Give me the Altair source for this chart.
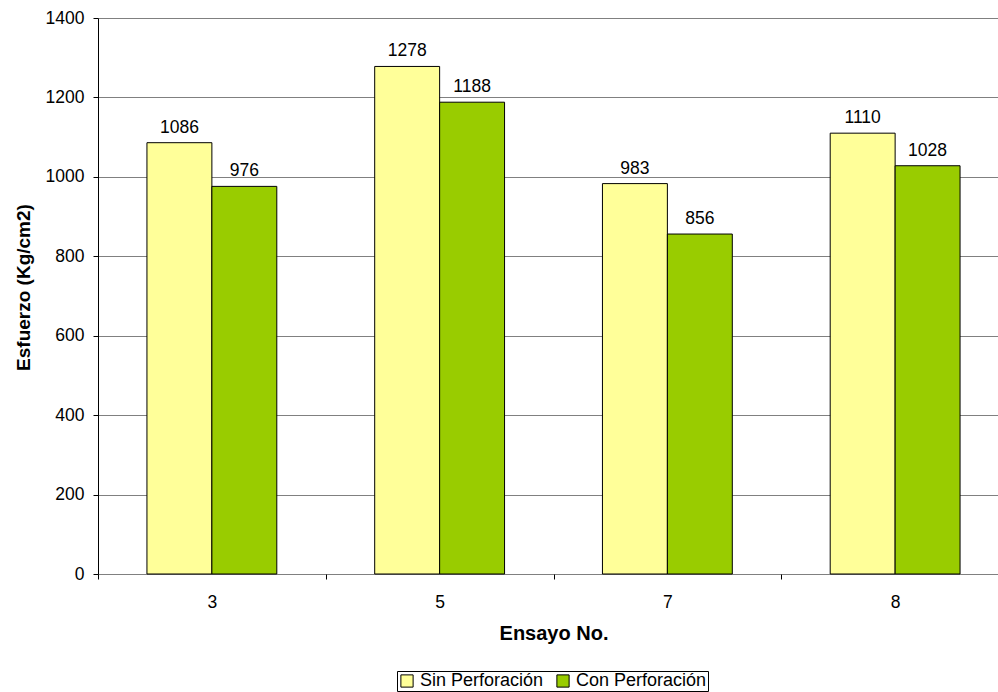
import altair as alt
import pandas as pd

# Test numbers (Ensayo No.) and measured stress for each specimen type
ensayos = ["3", "5", "7", "8"]
sin_perforacion = [1086, 1278, 983, 1110]
con_perforacion = [976, 1188, 856, 1028]
series = ["Sin Perforación", "Con Perforación"]
colores = ["#FFFF99", "#99CC00"]

rows = []
for i, e in enumerate(ensayos):
    rows.append({"Ensayo": e, "Serie": series[0], "Valor": sin_perforacion[i]})
    rows.append({"Ensayo": e, "Serie": series[1], "Valor": con_perforacion[i]})
df = pd.DataFrame(rows)

FONT = "Liberation Sans"

x_enc = alt.X(
    "Ensayo:N",
    sort=ensayos,
    scale=alt.Scale(range=[0, 911], paddingInner=0, paddingOuter=0),
    axis=alt.Axis(
        title="Ensayo No.",
        labelAngle=0,
        domain=False,
        tickBand="extent",
        tickSize=5,
        tickColor="black",
        labelPadding=14,
        labelFontSize=17.5,
        labelColor="black",
        titleFontSize=20,
        titleFontWeight="bold",
        titleColor="black",
        titlePadding=13,
    ),
)
xoff_enc = alt.XOffset(
    "Serie:N",
    sort=series,
    scale=alt.Scale(paddingInner=0, paddingOuter=0.754),
)
y_enc = alt.Y(
    "Valor:Q",
    scale=alt.Scale(domain=[0, 1400], nice=False),
    axis=alt.Axis(
        title="Esfuerzo (Kg/cm2)",
        values=list(range(0, 1401, 200)),
        format="d",
        tickSize=5,
        tickColor="black",
        domainColor="black",
        labelPadding=9,
        labelFontSize=17.5,
        labelColor="black",
        titleFontSize=19,
        titleFontWeight="bold",
        titleColor="black",
        titlePadding=12,
        titleY=269,
        grid=True,
        gridColor="#808080",
        gridWidth=1,
    ),
)

bars = alt.Chart(df).mark_bar(stroke="black", strokeWidth=1).encode(
    x=x_enc,
    xOffset=xoff_enc,
    y=y_enc,
    color=alt.Color(
        "Serie:N",
        sort=series,
        scale=alt.Scale(domain=series, range=colores),
        legend=alt.Legend(
            title=None,
            orient="none",
            legendX=299,
            legendY=653,
            direction="horizontal",
            symbolType="square",
            symbolSize=150,
            symbolStrokeColor="black",
            symbolStrokeWidth=1,
            labelFontSize=18,
            labelColor="black",
            columnPadding=10,
            symbolOffset=0,
            labelOffset=4,
            padding=1,
            strokeColor="black",
            fillColor="white",
        ),
    ),
)

labels = alt.Chart(df).mark_text(
    baseline="alphabetic", dy=-10, fontSize=17.5, color="black", font=FONT
).encode(
    x=alt.X("Ensayo:N", sort=ensayos),
    xOffset=alt.XOffset("Serie:N", sort=series),
    y="Valor:Q",
    text="Valor:Q",
)

chart = (
    alt.layer(bars, labels)
    .properties(
        width=899,
        height=556,
        autosize=alt.AutoSizeParams(type="none"),
        padding={"left": 98, "top": 18, "right": 1, "bottom": 118},
    )
    .configure(font=FONT)
    .configure_view(stroke=None)
)

chart.save("out.html", embed_options={"renderer": "svg", "actions": False})
